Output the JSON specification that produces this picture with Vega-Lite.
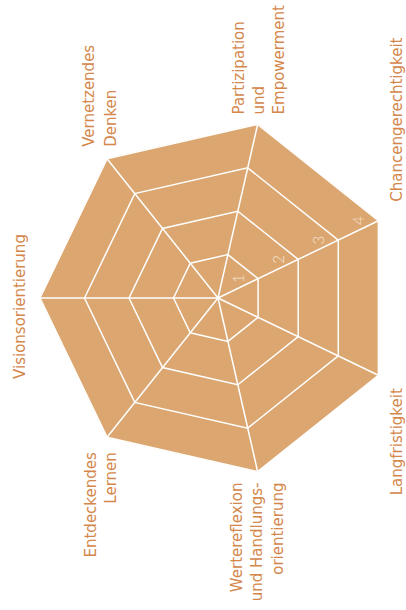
{
  "$schema": "https://vega.github.io/schema/vega-lite/v6.json",
  "width": 406,
  "height": 610,
  "autosize": "none",
  "padding": 0,
  "background": "white",
  "config": {"view": {"stroke": null}},
  "datasets": {
    "scores": [
      {"k": 0, "dimension": "Visionsorientierung", "label": "Visionsorientierung", "score": 4},
      {"k": 1, "dimension": "Vernetzendes Denken", "label": "Vernetzendes\nDenken", "score": 4},
      {"k": 2, "dimension": "Partizipation und Empowerment", "label": "Partizipation\nund\nEmpowerment", "score": 4},
      {"k": 3, "dimension": "Chancengerechtigkeit", "label": "Chancengerechtigkeit", "score": 4},
      {"k": 4, "dimension": "Langfristigkeit", "label": "Langfristigkeit", "score": 4},
      {"k": 5, "dimension": "Wertereflexion und Handlungsorientierung", "label": "Wertereflexion\nund Handlungs-\norientierung", "score": 4},
      {"k": 6, "dimension": "Entdeckendes Lernen", "label": "Entdeckendes\nLernen", "score": 4}
    ],
    "grid": [
      {"level": 1, "k": 0}, {"level": 1, "k": 1}, {"level": 1, "k": 2}, {"level": 1, "k": 3}, {"level": 1, "k": 4}, {"level": 1, "k": 5}, {"level": 1, "k": 6},
      {"level": 2, "k": 0}, {"level": 2, "k": 1}, {"level": 2, "k": 2}, {"level": 2, "k": 3}, {"level": 2, "k": 4}, {"level": 2, "k": 5}, {"level": 2, "k": 6},
      {"level": 3, "k": 0}, {"level": 3, "k": 1}, {"level": 3, "k": 2}, {"level": 3, "k": 3}, {"level": 3, "k": 4}, {"level": 3, "k": 5}, {"level": 3, "k": 6},
      {"level": 4, "k": 0}, {"level": 4, "k": 1}, {"level": 4, "k": 2}, {"level": 4, "k": 3}, {"level": 4, "k": 4}, {"level": 4, "k": 5}, {"level": 4, "k": 6}
    ]
  },
  "encoding": {
    "x": {"field": "x", "type": "quantitative", "scale": {"domain": [-4.8989, 4.2247], "nice": false, "zero": false}, "axis": null},
    "y": {"field": "y", "type": "quantitative", "scale": {"domain": [-7.0112, 6.6966], "nice": false, "zero": false}, "axis": null}
  },
  "layer": [
    {
      "data": {"name": "scores"},
      "transform": [
        {"calculate": "PI * (1 - 2 * datum.k / 7)", "as": "a"},
        {"calculate": "datum.score * cos(datum.a)", "as": "x"},
        {"calculate": "datum.score * sin(datum.a)", "as": "y"}
      ],
      "mark": {"type": "line", "interpolate": "linear-closed", "fill": "#DBA670", "stroke": "#DBA670", "strokeWidth": 0.5},
      "encoding": {"order": {"field": "k", "type": "quantitative"}}
    },
    {
      "data": {"name": "grid"},
      "transform": [
        {"calculate": "PI * (1 - 2 * datum.k / 7)", "as": "a"},
        {"calculate": "datum.level * cos(datum.a)", "as": "x"},
        {"calculate": "datum.level * sin(datum.a)", "as": "y"}
      ],
      "mark": {"type": "line", "interpolate": "linear-closed", "stroke": "white", "strokeWidth": 1.5},
      "encoding": {
        "detail": {"field": "level", "type": "nominal"},
        "order": {"field": "k", "type": "quantitative"}
      }
    },
    {
      "data": {"name": "grid"},
      "transform": [
        {"filter": "datum.level == 4"},
        {"calculate": "PI * (1 - 2 * datum.k / 7)", "as": "a"},
        {"calculate": "datum.level * cos(datum.a)", "as": "x"},
        {"calculate": "datum.level * sin(datum.a)", "as": "y"}
      ],
      "mark": {"type": "rule", "stroke": "white", "strokeWidth": 1.5},
      "encoding": {"x2": {"datum": 0}, "y2": {"datum": 0}}
    },
    {
      "data": {"name": "grid"},
      "transform": [
        {"filter": "datum.k == 3"},
        {"calculate": "PI * (1 - 2 * datum.k / 7)", "as": "a"},
        {"calculate": "datum.level * cos(datum.a)", "as": "x"},
        {"calculate": "datum.level * sin(datum.a)", "as": "y"}
      ],
      "mark": {"type": "text", "angle": 270, "align": "center", "baseline": "middle", "dy": -19, "font": "Lato", "fontWeight": 300, "fontSize": 15, "color": "#F5E4D0"},
      "encoding": {"text": {"field": "level", "type": "quantitative"}}
    },
    {
      "data": {"name": "scores"},
      "transform": [
        {"filter": "datum.k == 0"},
        {"calculate": "PI * (1 - 2 * datum.k / 7)", "as": "a"},
        {"calculate": "datum.score * cos(datum.a)", "as": "x"},
        {"calculate": "datum.score * sin(datum.a)", "as": "y"}
      ],
      "mark": {"type": "text", "angle": 270, "align": "center", "baseline": "middle", "dx": -8.5, "dy": -20.5, "font": "DejaVu Sans", "fontSize": 15, "lineHeight": 21, "lineBreak": "\n", "color": "#D4874B"},
      "encoding": {"text": {"field": "label", "type": "nominal"}}
    },
    {
      "data": {"name": "scores"},
      "transform": [
        {"filter": "datum.k == 1"},
        {"calculate": "PI * (1 - 2 * datum.k / 7)", "as": "a"},
        {"calculate": "datum.score * cos(datum.a)", "as": "x"},
        {"calculate": "datum.score * sin(datum.a)", "as": "y"}
      ],
      "mark": {"type": "text", "angle": 270, "align": "left", "baseline": "middle", "dx": 12, "dy": -18.5, "font": "DejaVu Sans", "fontSize": 15, "lineHeight": 22, "lineBreak": "\n", "color": "#D4874B"},
      "encoding": {"text": {"field": "label", "type": "nominal"}}
    },
    {
      "data": {"name": "scores"},
      "transform": [
        {"filter": "datum.k == 2"},
        {"calculate": "PI * (1 - 2 * datum.k / 7)", "as": "a"},
        {"calculate": "datum.score * cos(datum.a)", "as": "x"},
        {"calculate": "datum.score * sin(datum.a)", "as": "y"}
      ],
      "mark": {"type": "text", "angle": 270, "align": "left", "baseline": "middle", "dx": 10, "dy": -19, "font": "DejaVu Sans", "fontSize": 15, "lineHeight": 20, "lineBreak": "\n", "color": "#D4874B"},
      "encoding": {"text": {"field": "label", "type": "nominal"}}
    },
    {
      "data": {"name": "scores"},
      "transform": [
        {"filter": "datum.k == 3"},
        {"calculate": "PI * (1 - 2 * datum.k / 7)", "as": "a"},
        {"calculate": "datum.score * cos(datum.a)", "as": "x"},
        {"calculate": "datum.score * sin(datum.a)", "as": "y"}
      ],
      "mark": {"type": "text", "angle": 270, "align": "left", "baseline": "middle", "dx": 19, "dy": 19, "font": "DejaVu Sans", "fontSize": 15, "lineHeight": 21, "lineBreak": "\n", "color": "#D4874B"},
      "encoding": {"text": {"field": "label", "type": "nominal"}}
    },
    {
      "data": {"name": "scores"},
      "transform": [
        {"filter": "datum.k == 4"},
        {"calculate": "PI * (1 - 2 * datum.k / 7)", "as": "a"},
        {"calculate": "datum.score * cos(datum.a)", "as": "x"},
        {"calculate": "datum.score * sin(datum.a)", "as": "y"}
      ],
      "mark": {"type": "text", "angle": 270, "align": "right", "baseline": "middle", "dx": -13, "dy": 19, "font": "DejaVu Sans", "fontSize": 15, "lineHeight": 21, "lineBreak": "\n", "color": "#D4874B"},
      "encoding": {"text": {"field": "label", "type": "nominal"}}
    },
    {
      "data": {"name": "scores"},
      "transform": [
        {"filter": "datum.k == 5"},
        {"calculate": "PI * (1 - 2 * datum.k / 7)", "as": "a"},
        {"calculate": "datum.score * cos(datum.a)", "as": "x"},
        {"calculate": "datum.score * sin(datum.a)", "as": "y"}
      ],
      "mark": {"type": "text", "angle": 270, "align": "right", "baseline": "middle", "dx": -11, "dy": -21, "font": "DejaVu Sans", "fontSize": 15, "lineHeight": 20.5, "lineBreak": "\n", "color": "#D4874B"},
      "encoding": {"text": {"field": "label", "type": "nominal"}}
    },
    {
      "data": {"name": "scores"},
      "transform": [
        {"filter": "datum.k == 6"},
        {"calculate": "PI * (1 - 2 * datum.k / 7)", "as": "a"},
        {"calculate": "datum.score * cos(datum.a)", "as": "x"},
        {"calculate": "datum.score * sin(datum.a)", "as": "y"}
      ],
      "mark": {"type": "text", "angle": 270, "align": "right", "baseline": "middle", "dx": -15, "dy": -16, "font": "DejaVu Sans", "fontSize": 15, "lineHeight": 20, "lineBreak": "\n", "color": "#D4874B"},
      "encoding": {"text": {"field": "label", "type": "nominal"}}
    }
  ]
}
